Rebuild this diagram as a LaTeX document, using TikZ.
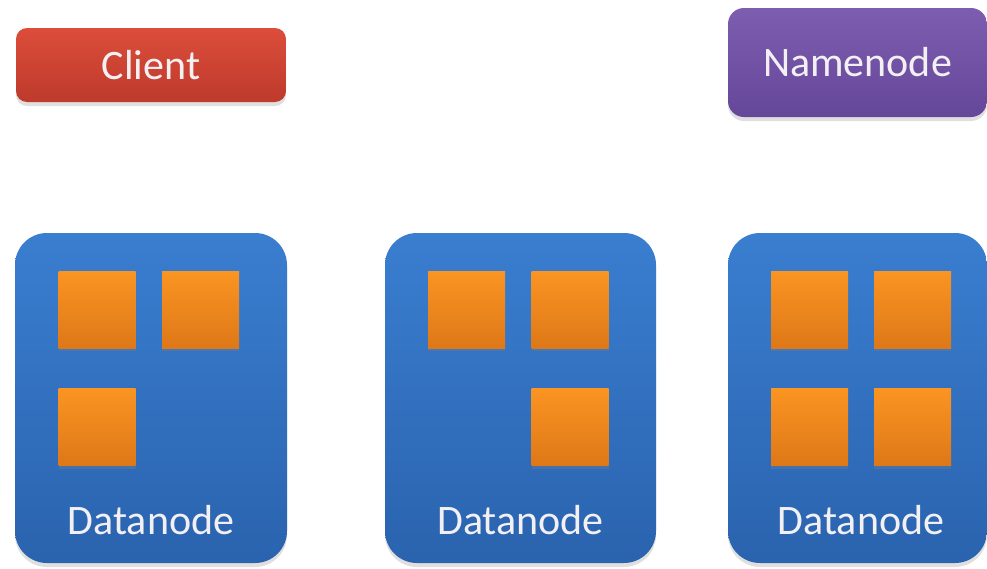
\documentclass[tikz,border=0pt]{standalone}
\usepackage{fontspec}
\setmainfont{Carlito}
\usetikzlibrary{shadows}
\definecolor{redtop}{HTML}{DC4D3A}
\definecolor{redbot}{HTML}{BE3A2C}
\definecolor{purtop}{HTML}{7D5DB0}
\definecolor{purbot}{HTML}{65479A}
\definecolor{bluetop}{HTML}{3A7ED0}
\definecolor{bluebot}{HTML}{2A63AE}
\definecolor{ortop}{HTML}{FA9422}
\definecolor{orbot}{HTML}{DE7818}
\definecolor{txt}{HTML}{F3F0F4}
\tikzset{
  lbl/.style={font=\fontsize{42}{50}\selectfont, text=txt, inner sep=0pt},
  btn/.style={rectangle, inner sep=0pt, font=\fontsize{42}{50}\selectfont, text=txt,
    drop shadow={shadow xshift=0pt, shadow yshift=-4pt, opacity=0.25}},
  clientbox/.style={btn, rounded corners=11pt, top color=redtop, bottom color=redbot},
  namebox/.style={btn, rounded corners=16pt, top color=purtop, bottom color=purbot},
  databox/.style={rectangle, inner sep=0pt, rounded corners=32pt, top color=bluetop, bottom color=bluebot,
    drop shadow={shadow xshift=0pt, shadow yshift=-4pt, opacity=0.25}},
  blockbox/.style={rectangle, inner sep=0pt, minimum width=77pt, minimum height=77pt,
    top color=ortop, bottom color=orbot,
    drop shadow={shadow xshift=0pt, shadow yshift=-3pt, opacity=0.3}}
}
\begin{document}
\begin{tikzpicture}[x=1pt,y=-1pt]
\useasboundingbox[fill=white] (0,0) rectangle (987,568);
\node[clientbox, minimum width=270pt, minimum height=74pt] (client) at (151,65) {Client};
\node[namebox, minimum width=259pt, minimum height=109pt] (namenode) at (857.5,62.5) {Namenode};

\node[databox, minimum width=272pt, minimum height=330pt] (dn1) at (151,398) {};
\node[databox, minimum width=271pt, minimum height=330pt] (dn2) at (520.5,398) {};
\node[databox, minimum width=259pt, minimum height=330pt] (dn3) at (857.5,398) {};

\node[lbl] (dl1) at (151,520) {Datanode};
\node[lbl] (dl2) at (520.5,520) {Datanode};
\node[lbl] (dl3) at (861,520) {Datanode};

\node[blockbox] (b11) at (97,309.5) {};
\node[blockbox] (b12) at (200.5,309.5) {};
\node[blockbox] (b13) at (97,427) {};

\node[blockbox] (b21) at (466.5,309.5) {};
\node[blockbox] (b22) at (570,309.5) {};
\node[blockbox] (b23) at (570,427) {};

\node[blockbox] (b31) at (809.5,309.5) {};
\node[blockbox] (b32) at (912.5,309.5) {};
\node[blockbox] (b33) at (809.5,427) {};
\node[blockbox] (b34) at (912.5,427) {};
\end{tikzpicture}
\end{document}
